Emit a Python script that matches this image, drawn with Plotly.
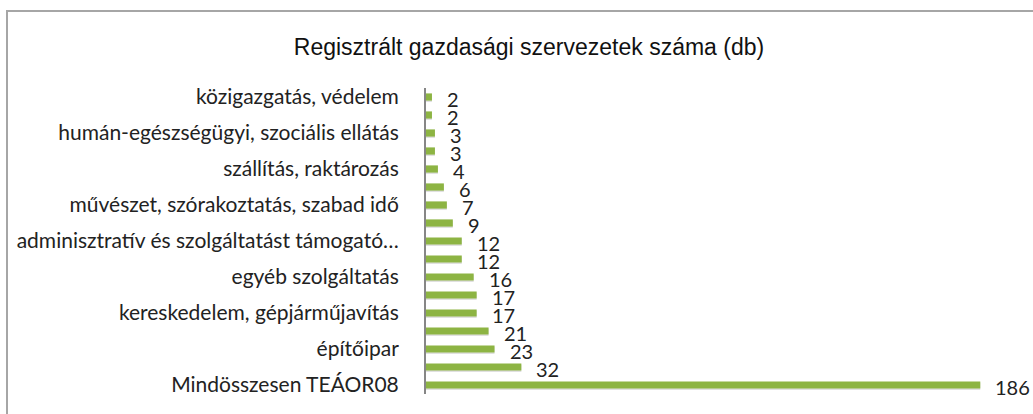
import plotly.graph_objects as go

title = "Regisztrált gazdasági szervezetek száma (db)"
# Categories from top to bottom; Excel only shows every other label
categories = [
    "közigazgatás, védelem", "",
    "humán-egészségügyi, szociális ellátás", "",
    "szállítás, raktározás", "",
    "művészet, szórakoztatás, szabad idő", "",
    "adminisztratív és szolgáltatást támogató…", "",
    "egyéb szolgáltatás", "",
    "kereskedelem, gépjárműjavítás", "",
    "építőipar", "",
    "Mindösszesen TEÁOR08",
]
values = [2, 2, 3, 3, 4, 6, 7, 9, 12, 12, 16, 17, 17, 21, 23, 32, 186]
positions = list(range(len(values)))

W, H = 1033, 414
ML, MR, MT, MB = 426, 11, 88, 20
font = "Lato, Carlito, Calibri, sans-serif"

fig = go.Figure()
fig.add_trace(go.Bar(
    x=values, y=positions, orientation="h", width=0.4,
    marker=dict(color="rgba(0,0,0,0.12)", line=dict(width=0)),
    offset=-0.12, hoverinfo="skip", showlegend=False,
))
fig.add_trace(go.Bar(
    x=values, y=positions, orientation="h", width=0.4,
    marker=dict(color="#8DB443", line=dict(width=0)),
    showlegend=False,
))

for p, v in zip(positions, values):
    fig.add_annotation(x=v, y=p, text=str(v), showarrow=False,
                       xanchor="left", yanchor="middle", xshift=13, yshift=-2,
                       font=dict(family=font, size=20, color="#222222"))

# frame lines (cropped chart border)
pw = W - ML - MR
ph = H - MT - MB
def px(xp):
    return (xp - ML) / pw
def py(yp):
    return (H - MB - yp) / ph
fig.add_shape(type="line", xref="paper", yref="paper",
              x0=px(6), x1=px(W + 5), y0=py(11), y1=py(11),
              line=dict(color="#A6A6A6", width=2))
fig.add_shape(type="line", xref="paper", yref="paper",
              x0=px(7), x1=px(7), y0=py(10), y1=py(H + 5),
              line=dict(color="#A6A6A6", width=2))

tick_pos = [p for p, c in zip(positions, categories) if c]
tick_txt = [c for c in categories if c]

fig.update_layout(
    width=W, height=H,
    margin=dict(l=ML, r=MR, t=MT, b=MB),
    paper_bgcolor="white", plot_bgcolor="white",
    title=dict(text=title, x=529 / W, xanchor="center", y=1 - 47 / H, yanchor="middle",
               font=dict(family="Liberation Sans, Arial, sans-serif", size=23, color="#111111")),
    xaxis=dict(range=[0, 200], visible=False, fixedrange=True),
    yaxis=dict(range=[16.5, -0.5], tickmode="array", tickvals=tick_pos, ticktext=tick_txt,
               showline=True, linecolor="#868686", linewidth=2, showgrid=False, zeroline=False,
               ticks="", ticklabelstandoff=21, fixedrange=True,
               tickfont=dict(family=font, size=21, color="#222222")),
    bargap=0.6,
    barmode="overlay",
)

fig.write_html("out.html", config={"displayModeBar": False},
               post_script="document.body.style.margin='0';document.body.style.overflow='hidden';")
